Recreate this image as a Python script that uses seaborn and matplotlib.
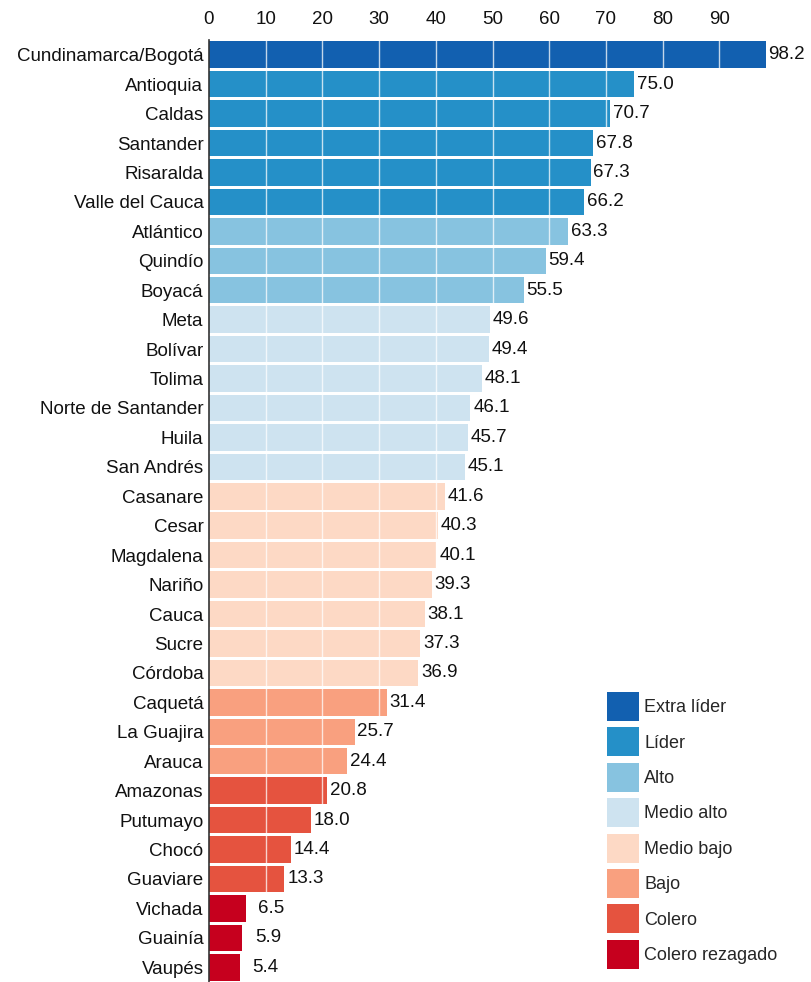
import matplotlib
matplotlib.use("Agg")
import matplotlib.pyplot as plt
from matplotlib.patches import Patch
import seaborn as sns
import pandas as pd

departments = ["Cundinamarca/Bogotá", "Antioquia", "Caldas", "Santander", "Risaralda",
               "Valle del Cauca", "Atlántico", "Quindío", "Boyacá", "Meta", "Bolívar",
               "Tolima", "Norte de Santander", "Huila", "San Andrés", "Casanare", "Cesar",
               "Magdalena", "Nariño", "Cauca", "Sucre", "Córdoba", "Caquetá", "La Guajira",
               "Arauca", "Amazonas", "Putumayo", "Chocó", "Guaviare", "Vichada", "Guainía",
               "Vaupés"]
values = [98.2, 75.0, 70.7, 67.8, 67.3, 66.2, 63.3, 59.4, 55.5, 49.6, 49.4, 48.1, 46.1,
          45.7, 45.1, 41.6, 40.3, 40.1, 39.3, 38.1, 37.3, 36.9, 31.4, 25.7, 24.4, 20.8,
          18.0, 14.4, 13.3, 6.5, 5.9, 5.4]
groups = (["Extra líder"] + ["Líder"] * 5 + ["Alto"] * 3 + ["Medio alto"] * 6 +
          ["Medio bajo"] * 7 + ["Bajo"] * 3 + ["Colero"] * 4 + ["Colero rezagado"] * 3)
group_names = ["Extra líder", "Líder", "Alto", "Medio alto", "Medio bajo", "Bajo",
               "Colero", "Colero rezagado"]
group_colors = ["#1260b0", "#2590c8", "#87c3e0", "#cee3f0", "#fdd9c5", "#f9a07f",
                "#e5533f", "#c6001e"]
x_ticks = [0, 10, 20, 30, 40, 50, 60, 70, 80, 90]

df = pd.DataFrame({"dep": departments, "val": values, "grp": groups})
palette = dict(zip(group_names, group_colors))

sns.set_theme(style="white")
plt.rcParams["font.family"] = ["Liberation Sans", "DejaVu Sans"]

fig = plt.figure(figsize=(8.11, 9.82), dpi=100)
W, H = 811, 982
ax = fig.add_axes([209 / W, 0, (105 * 5.67) / W, (H - 40) / H])

sns.barplot(data=df, x="val", y="dep", hue="grp", palette=palette, dodge=False,
            legend=False, width=0.9, ax=ax, zorder=1, saturation=1, linewidth=0)

ax.set_xlim(0, 105)
ax.set_ylim(len(departments) - 0.5, -0.5)
ax.set_xlabel("")
ax.set_ylabel("")
ax.xaxis.tick_top()
ax.set_xticks(x_ticks)
ax.tick_params(axis="x", length=0, labelsize=13.5, pad=9, colors="#111111")
ax.tick_params(axis="y", length=0, labelsize=13.5, pad=4, colors="#111111")
for s in ["top", "right", "bottom"]:
    ax.spines[s].set_visible(False)
ax.spines["left"].set_color("#333333")
ax.spines["left"].set_linewidth(1.2)

for xt in x_ticks[1:]:
    ax.axvline(xt, color="white", lw=1.0, alpha=0.75, zorder=2)

for i, v in enumerate(values):
    off = 2 if v >= 10 else 9
    ax.annotate(f"{v:.1f}", (v, i), xytext=(off, 0), textcoords="offset points",
                va="center", ha="left", fontsize=13.5, color="#111111")

handles = [Patch(facecolor=c, edgecolor="none", label=g) for g, c in zip(group_names, group_colors)]
leg = fig.legend(handles=handles, loc="upper left", bbox_to_anchor=(607 / W, 1 - 692 / H),
                 frameon=False, fontsize=13, handlelength=1.75, handleheight=2.1,
                 labelspacing=0.35, handletextpad=0.3, borderpad=0, borderaxespad=0)

fig.savefig("out.png", dpi=100)
